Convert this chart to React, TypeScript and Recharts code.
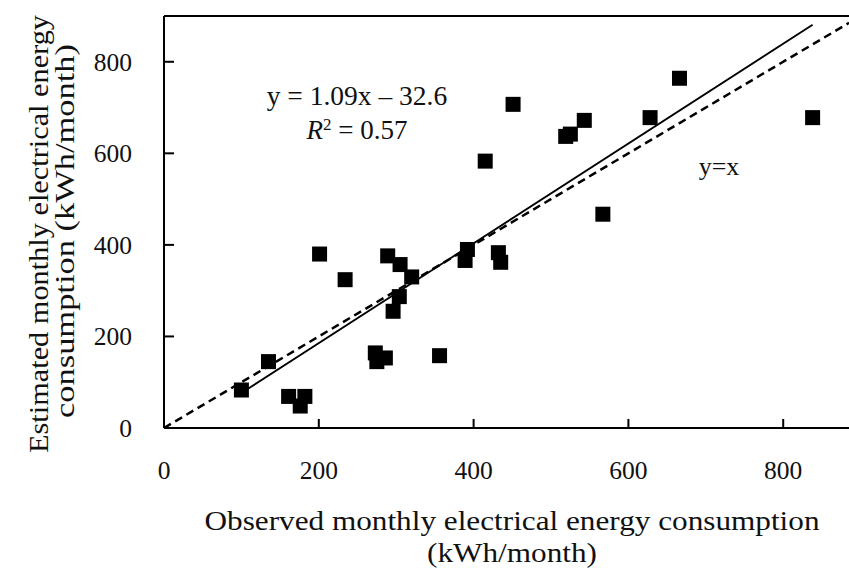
import React from 'react';
import { ScatterChart, Scatter, XAxis, YAxis, ReferenceLine } from 'recharts';

const observed = [100, 135, 161, 182, 176, 201, 234, 289, 305, 320, 304, 296, 273, 275, 286, 356, 389, 392, 432, 435, 415, 451, 519, 525, 543, 567, 628, 666, 838];
const estimated = [83, 145, 69, 69, 48, 380, 324, 376, 357, 330, 287, 255, 164, 145, 153, 158, 366, 390, 383, 362, 583, 707, 637, 642, 672, 467, 678, 764, 678];
const xTicks = [0, 200, 400, 600, 800];
const yTicks = [0, 200, 400, 600, 800];
const xDomain: [number, number] = [0, 885];
const yDomain: [number, number] = [0, 900];
const slope = 1.09;
const intercept = -32.6;

const FONT = '"Liberation Serif", "Times New Roman", serif';

const points = observed.map((x, i) => ({ x, y: estimated[i] }));
const xMin = Math.min(...observed);
const xMax = Math.max(...observed);

const XTick = (props: any) => {
  const { x, y, payload } = props;
  return (
    <g>
      <line x1={x} x2={x} y1={y} y2={y - 9} stroke="#000" strokeWidth={2} />
      <text x={x} y={y + 42} dy="0.35em" textAnchor="middle" fontFamily={FONT} fontSize={25.5} fill="#111">
        {payload.value}
      </text>
    </g>
  );
};

const YTick = (props: any) => {
  const { x, y, payload } = props;
  return (
    <g>
      <line x1={x} x2={x + 10} y1={y} y2={y} stroke="#000" strokeWidth={2} />
      <text x={x - 32} y={y} dy="0.35em" textAnchor="end" fontFamily={FONT} fontSize={25.5} fill="#111">
        {payload.value}
      </text>
    </g>
  );
};

const Square = (props: any) => {
  const { cx, cy } = props;
  return <rect x={cx - 7.5} y={cy - 7.5} width={15} height={15} fill="#000" />;
};

export default function App() {
  return (
    <div style={{ position: 'relative', width: 849, height: 570 }}>
      <style>{`body{margin:0;background:#fff}`}</style>
      <ScatterChart width={849} height={570} margin={{ top: 16, right: 0, bottom: 0, left: 0 }}>
        <XAxis
          type="number"
          dataKey="x"
          domain={xDomain}
          ticks={xTicks}
          height={142}
          tickSize={0}
          tickMargin={0}
          tickLine={false}
          tick={<XTick />}
          axisLine={{ stroke: '#000', strokeWidth: 2 }}
          allowDataOverflow
        />
        <YAxis
          type="number"
          dataKey="y"
          domain={yDomain}
          ticks={yTicks}
          width={164}
          tickSize={0}
          tickMargin={0}
          tickLine={false}
          tick={<YTick />}
          axisLine={{ stroke: '#000', strokeWidth: 2 }}
          allowDataOverflow
        />
        <ReferenceLine y={yDomain[1]} stroke="#000" strokeWidth={2} />
        <ReferenceLine
          segment={[{ x: xDomain[0], y: xDomain[0] }, { x: xDomain[1], y: xDomain[1] }]}
          stroke="#000"
          strokeWidth={2.5}
          strokeDasharray="8 5"
          ifOverflow="visible"
        />
        <ReferenceLine
          segment={[
            { x: xMin, y: slope * xMin + intercept },
            { x: xMax, y: slope * xMax + intercept },
          ]}
          stroke="#000"
          strokeWidth={1.8}
          ifOverflow="visible"
        />
        <Scatter data={points} shape={<Square />} isAnimationActive={false} />
      </ScatterChart>
      <svg
        width={849}
        height={570}
        style={{ position: 'absolute', left: 0, top: 0, pointerEvents: 'none' }}
        fontFamily={FONT}
        fill="#111"
      >
        <text x={357} y={95} dy="0.35em" textAnchor="middle" fontSize={27.5}>y = 1.09x – 32.6</text>
        <text x={357} y={130} dy="0.35em" textAnchor="middle" fontSize={27}>
          <tspan fontStyle="italic">R</tspan>
          <tspan dy={-9} fontSize={17}>2</tspan>
          <tspan dy={9}> = 0.57</tspan>
        </text>
        <text x={719} y={166} dy="0.35em" textAnchor="middle" fontSize={26}>y=x</text>
        <text x={512} y={521} dy="0.35em" textAnchor="middle" fontSize={27} textLength={615} lengthAdjust="spacingAndGlyphs">
          Observed monthly electrical energy consumption
        </text>
        <text x={512} y={553} dy="0.35em" textAnchor="middle" fontSize={27} textLength={170} lengthAdjust="spacingAndGlyphs">(kWh/month)</text>
        <text transform="translate(39,234) rotate(-90)" dy="0.35em" textAnchor="middle" fontSize={27} textLength={438} lengthAdjust="spacingAndGlyphs">
          Estimated monthly electrical energy
        </text>
        <text transform="translate(65,231) rotate(-90)" dy="0.35em" textAnchor="middle" fontSize={27} textLength={374} lengthAdjust="spacingAndGlyphs">
          consumption (kWh/month)
        </text>
      </svg>
    </div>
  );
}
